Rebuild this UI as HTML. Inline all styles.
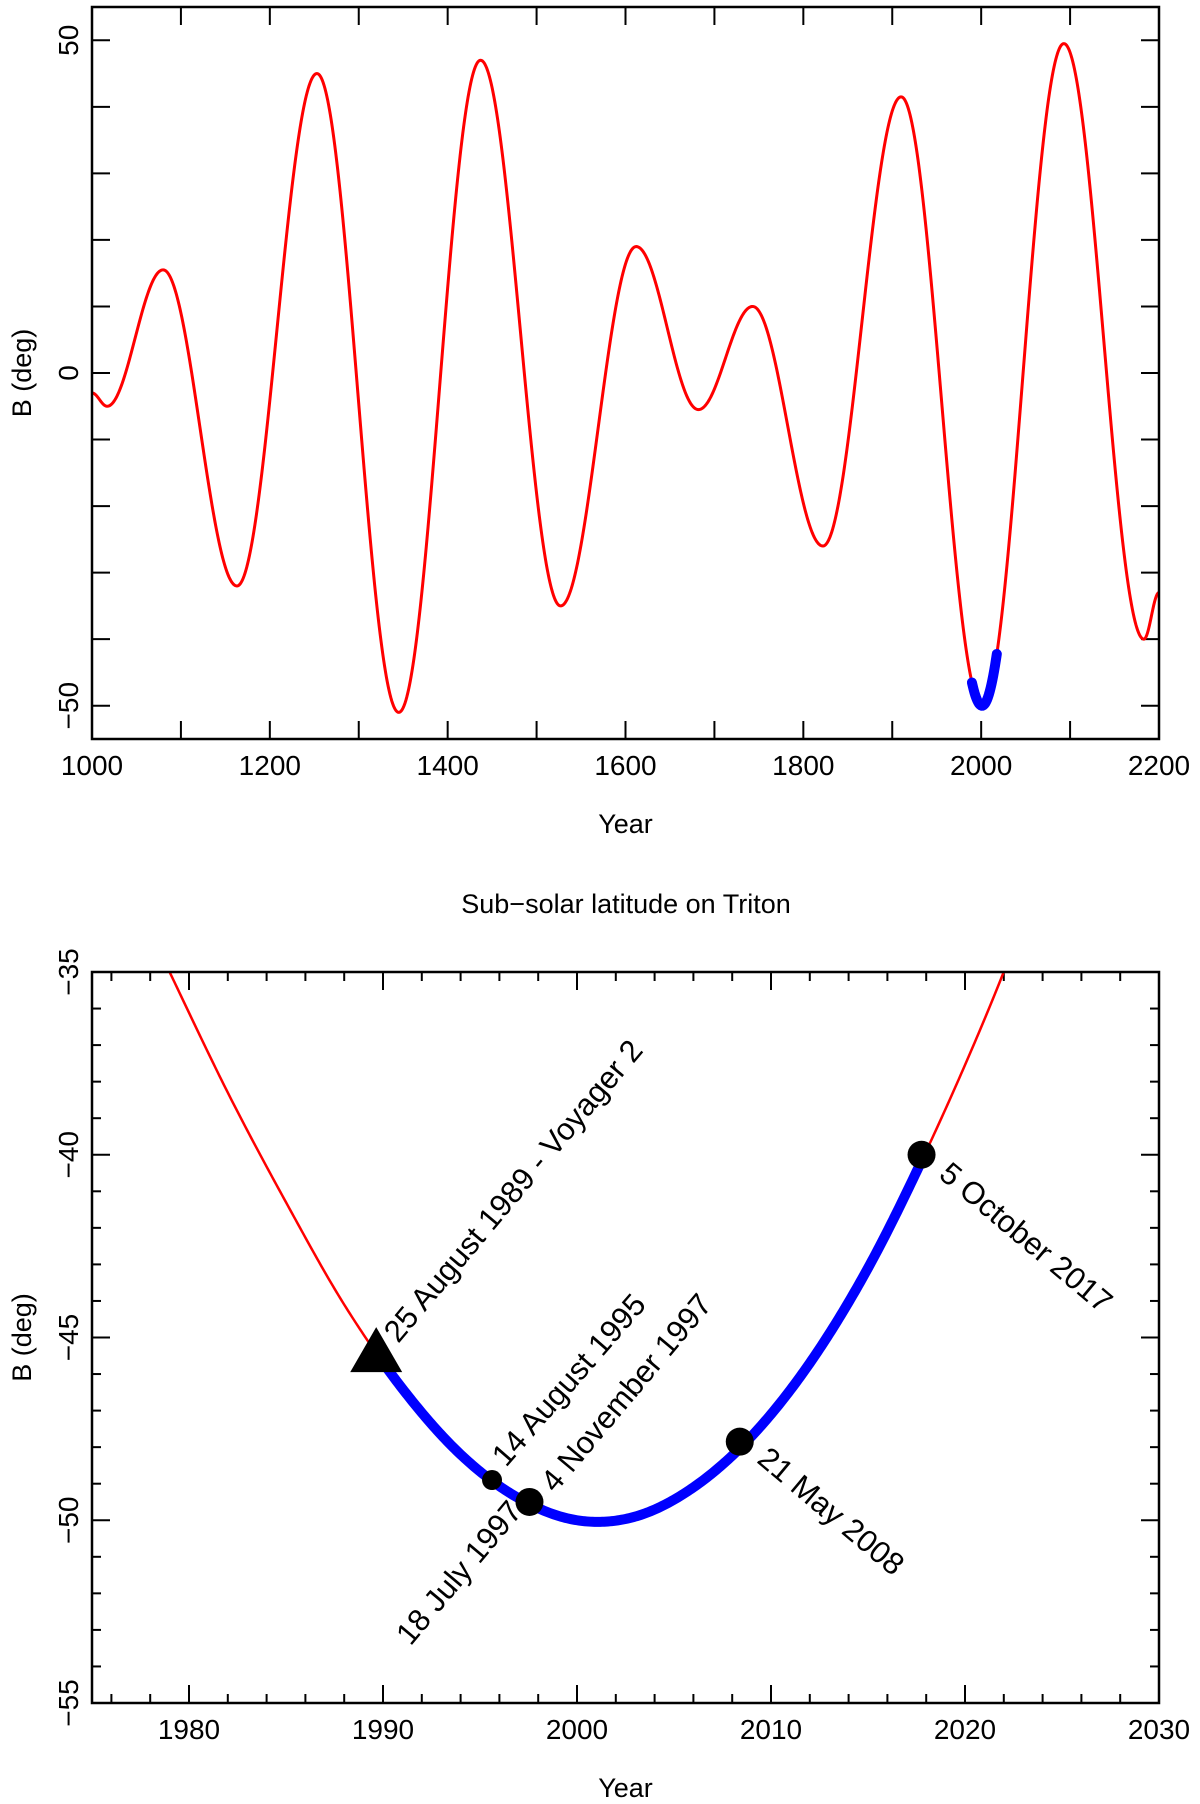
<!DOCTYPE html>
<html><head><meta charset="utf-8"><style>
html,body{margin:0;padding:0;background:#fff}
svg{display:block;font-family:"Liberation Sans",sans-serif}
</style></head><body>
<svg id="c" width="1200" height="1804" viewBox="0 0 1200 1804"></svg>
<script>
// Top panel data: turning points of sub-solar latitude
const topYears = [1000,1017,1080,1163,1253,1345,1437,1527,1612,1682,1743,1822,1910,2001,2093,2183,2200];
const topB     = [-3,-5,15.5,-32,45,-51,47,-35,19,-5.5,10,-26,41.5,-50,49.5,-40,-33];
const topHighlight = [1989.6, 2017.8];
const topXTicks = [1000,1200,1400,1600,1800,2000,2200];
const topYTicks = [-50,0,50];
// Bottom panel data
const botYears = [1979,1982,1985,1988,1991,1994,1997,2000,2003,2006,2009,2012,2015,2018,2021,2024];
const botB     = [-35.0,-38.3,-41.3,-44.1,-46.4,-48.2,-49.4,-50.0,-49.9,-49.1,-47.7,-45.7,-43.1,-39.9,-36.3,-32.3];
const eventYears = [1989.65,1995.62,1997.55,1997.84,2008.39,2017.76];
const eventB     = [-45.4,-48.9,-49.5,-49.55,-47.85,-40];
const botXTicks = [1980,1990,2000,2010,2020,2030];
const botYTicks = [-55,-50,-45,-40,-35];

const NS="http://www.w3.org/2000/svg";
const svg=document.getElementById('c');
function mk(tag,attrs,parent){const e=document.createElementNS(NS,tag);for(const k in attrs)e.setAttribute(k,attrs[k]);(parent||svg).appendChild(e);return e;}

function panel(o){
  const sx=v=>o.L+(v-o.x0)/(o.x1-o.x0)*(o.R-o.L);
  const sy=v=>o.B-(v-o.y0)/(o.y1-o.y0)*(o.B-o.T);
  const g=mk('g',{});
  
  
  const tg=mk('g',{stroke:'#000','stroke-width':2},g);
  
  
  for(let v=Math.ceil(o.x0/o.xmin-1e-9)*o.xmin;v<=o.x1+1e-9;v+=o.xmin){
    const major=Math.abs(Math.round(v/o.xmaj)*o.xmaj-v)<1e-6; const len=major?18:9;
    mk('line',{x1:sx(v),x2:sx(v),y1:o.B,y2:o.B-len},tg);
    mk('line',{x1:sx(v),x2:sx(v),y1:o.T,y2:o.T+len},tg);
  }
  for(let v=Math.ceil(o.y0/o.ymin-1e-9)*o.ymin;v<=o.y1+1e-9;v+=o.ymin){
    const major=Math.abs(Math.round(v/o.ymaj)*o.ymaj-v)<1e-6; const len=major?18:9;
    mk('line',{y1:sy(v),y2:sy(v),x1:o.L,x2:o.L+len},tg);
    mk('line',{y1:sy(v),y2:sy(v),x1:o.R,x2:o.R-len},tg);
  }
  o.xt.forEach(v=>{const t=mk('text',{x:sx(v),y:o.B+36,'text-anchor':'middle','font-size':28},g);t.textContent=v;
    });
  o.yt.forEach(v=>{const t=mk('text',{transform:`translate(${o.L-14},${sy(v)}) rotate(-90)`,'text-anchor':'middle','font-size':28},g);t.textContent=(v<0?'\u2212'+(-v):v);
    });
  const xt=mk('text',{x:(o.L+o.R)/2,y:o.B+94,'text-anchor':'middle','font-size':27},g);xt.textContent='Year';
  
  const yt=mk('text',{transform:`translate(31,${(o.T+o.B)/2}) rotate(-90)`,'text-anchor':'middle','font-size':27},g);yt.textContent='B  (deg)';
  
  return {sx,sy,g};
}
function clipRect(id,o){const cp=mk('clipPath',{id});mk('rect',{x:o.L,y:o.T,width:o.R-o.L,height:o.B-o.T},cp);}

// TOP
const oT={name:'top-panel',L:92,R:1159,T:7,B:739,x0:1000,x1:2200,y0:-55,y1:55,xmin:100,xmaj:100,ymin:10,ymaj:10,xt:topXTicks,yt:topYTicks};
const P1=panel(oT);
clipRect('c1',oT);
function topVal(x){for(let i=0;i<topYears.length-1;i++){if(x>=topYears[i]&&x<=topYears[i+1]){const t=(x-topYears[i])/(topYears[i+1]-topYears[i]);const s=(1-Math.cos(Math.PI*t))/2;return topB[i]+(topB[i+1]-topB[i])*s;}}return topB[topB.length-1];}
function topPath(a,b){let d='';for(let x=a;x<=b+1e-9;x+=1){d+=(d?'L':'M')+P1.sx(x).toFixed(2)+','+P1.sy(topVal(x)).toFixed(2);}return d;}
const tr=mk('path',{d:topPath(topYears[0],topYears[topYears.length-1]),fill:'none',stroke:'#ff0000','stroke-width':3,'clip-path':'url(#c1)'},P1.g);

const tb=mk('path',{d:topPath(topHighlight[0],topHighlight[1]),fill:'none',stroke:'#0000ff','stroke-width':10,'stroke-linecap':'round'},P1.g);

const f1=mk('rect',{x:oT.L,y:oT.T,width:oT.R-oT.L,height:oT.B-oT.T,fill:'none',stroke:'#000','stroke-width':2.5},P1.g);


// BOTTOM
const oB={name:'bottom-panel',L:92,R:1159,T:972,B:1703,x0:1975,x1:2030,y0:-55,y1:-35,xmin:2,xmaj:10,ymin:1,ymaj:5,xt:botXTicks,yt:botYTicks};
const P2=panel(oB);
clipRect('c2',oB);
const title=mk('text',{x:626,y:913,'text-anchor':'middle','font-size':27},P2.g);title.textContent='Sub\u2212solar latitude on Triton';

function spline(xs,ys,sx,sy,a,b){const pts=[];for(let i=0;i<xs.length;i++)pts.push([xs[i],ys[i]]);
  const out=[];for(let i=0;i<pts.length-1;i++){const p0=pts[Math.max(0,i-1)],p1=pts[i],p2=pts[i+1],p3=pts[Math.min(pts.length-1,i+2)];
    for(let k=0;k<30;k++){const t=k/30,t2=t*t,t3=t2*t;
      const x=0.5*((2*p1[0])+(-p0[0]+p2[0])*t+(2*p0[0]-5*p1[0]+4*p2[0]-p3[0])*t2+(-p0[0]+3*p1[0]-3*p2[0]+p3[0])*t3);
      const y=0.5*((2*p1[1])+(-p0[1]+p2[1])*t+(2*p0[1]-5*p1[1]+4*p2[1]-p3[1])*t2+(-p0[1]+3*p1[1]-3*p2[1]+p3[1])*t3);
      if(x>=a&&x<=b)out.push([x,y]);}}
  const last=pts[pts.length-1];if(last[0]<=b)out.push(last);
  return out.map((p,i)=>(i?'L':'M')+sx(p[0]).toFixed(2)+','+sy(p[1]).toFixed(2)).join('');}
const br=mk('path',{d:spline(botYears,botB,P2.sx,P2.sy,-1e9,1e9),fill:'none',stroke:'#ff0000','stroke-width':2.5,'clip-path':'url(#c2)'},P2.g);

const bb=mk('path',{d:spline(botYears,botB,P2.sx,P2.sy,eventYears[0],eventYears[eventYears.length-1]),fill:'none',stroke:'#0000ff','stroke-width':10},P2.g);

const ex=eventYears.map(P2.sx), ey=eventB.map(P2.sy);
const tri=mk('polygon',{points:`${ex[0]},${ey[0]-25} ${ex[0]-26},${ey[0]+20} ${ex[0]+26},${ey[0]+20}`,fill:'#000'},P2.g);

const radii=[0,10,14,0,14,14];
[1,2,4,5].forEach(i=>{const c=mk('circle',{cx:ex[i],cy:ey[i],r:radii[i],fill:'#000'},P2.g);
  });
const labs=[[0,'25 August 1989 - Voyager 2',22,-8,-50,'start'],[1,'14 August 1995',14,-12,-49,'start'],[3,'4 November 1997',20,-10,-50,'start'],
  [2,'18 July 1997',-6,10,-50,'end'],[4,'21 May 2008',16,20,40,'start'],[5,'5 October 2017',16,22,40,'start']];
labs.forEach(l=>{const t=mk('text',{transform:`translate(${ex[l[0]]+l[2]},${ey[l[0]]+l[3]}) rotate(${l[4]})`,'text-anchor':l[5],'font-size':31},P2.g);
  t.textContent=l[1];});
const f2=mk('rect',{x:oB.L,y:oB.T,width:oB.R-oB.L,height:oB.B-oB.T,fill:'none',stroke:'#000','stroke-width':2.5},P2.g);

</script>
</body></html>
